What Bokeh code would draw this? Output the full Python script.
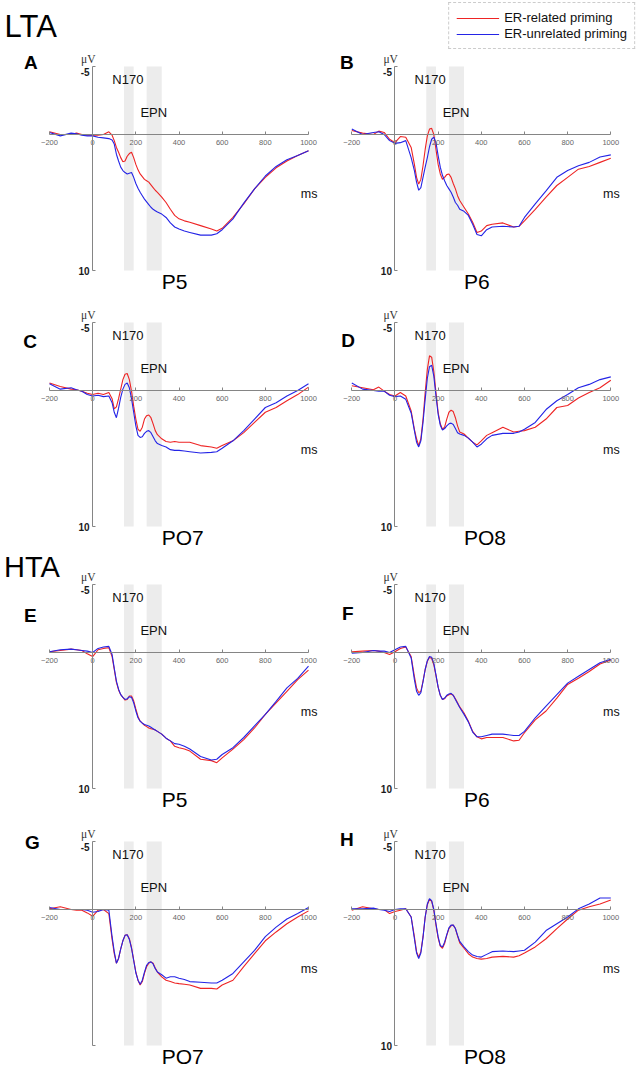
from bokeh.plotting import figure
from bokeh.models import Range1d, LinearAxis, FixedTicker, Legend, LegendItem
from bokeh.layouts import gridplot
from bokeh.core.properties import value
from bokeh.embed import file_html
from bokeh.resources import INLINE

# ---------------- data ----------------
TIME_MS = [-200, -150, -100, -75, -50, -25, 0, 25, 50, 75,
           90, 100, 110, 120, 130, 140, 150, 160, 170, 180, 190, 200, 210, 220, 230, 240, 250, 260, 270, 280, 290, 300,
           320, 340, 360, 380, 400, 425, 450, 500, 550, 575, 600, 650, 700, 750, 800, 850, 900, 950, 1000]

X_TICKS = [-200, 0, 200, 400, 600, 800, 1000]
Y_TICKS = [-5, 10]
Y_TICK_LABELS = ["-5", "10"]
Y_TOP, Y_BOTTOM = -5, 10
X_START, X_END = -200, 1000

BAND_START = [145, 250]
BAND_END = [190, 320]
BAND_NAMES = ["N170", "EPN"]

PANEL_LETTERS = ["A", "B", "C", "D", "E", "F", "G", "H"]
ELECTRODES = ["P5", "P6", "PO7", "PO8", "P5", "P6", "PO7", "PO8"]
GROUPS = ["LTA", "HTA"]
SERIES_NAMES = ["ER-related priming", "ER-unrelated priming"]

A_RED = [-0.2, 0.0, 0.0, -0.1, 0.0, 0.05, 0.05, 0.05, 0.0, -0.2,
         0.05, 0.45, 0.95, 1.3, 1.7, 2.0, 1.95, 1.6, 1.4, 1.3, 1.7, 2.2, 2.6, 2.9, 3.1, 3.3, 3.4, 3.5, 3.7, 3.9, 4.1, 4.25,
         4.6, 5.0, 5.5, 5.95, 6.2, 6.35, 6.45, 6.7, 6.95, 7.1, 6.9, 6.1, 5.1, 4.0, 3.15, 2.45, 1.95, 1.55, 1.2]
A_BLUE = [-0.15, 0.1, -0.1, -0.05, 0.05, 0.1, 0.1, 0.2, 0.25, 0.3,
          0.4, 0.7, 1.45, 1.95, 2.4, 2.65, 2.8, 2.9, 2.85, 2.8, 3.15, 3.6, 3.95, 4.25, 4.5, 4.75, 4.95, 5.15, 5.35, 5.5, 5.6, 5.7,
          5.85, 6.1, 6.5, 6.8, 6.95, 7.1, 7.2, 7.4, 7.4, 7.3, 7.0, 6.2, 5.05, 4.0, 3.05, 2.35, 1.85, 1.55, 1.2]

B_RED = [-0.3, -0.1, 0.0, -0.25, -0.15, 0.35, 0.6, 0.15, 0.2, 0.95,
         2.2, 3.15, 3.65, 3.3, 2.3, 1.1, 0.1, -0.4, -0.45, 0.0, 1.1, 2.2, 2.9, 3.3, 3.15, 2.95, 2.9, 3.15, 3.6, 4.0, 4.5, 4.85,
         5.35, 5.85, 6.45, 7.2, 7.1, 6.7, 6.6, 6.5, 6.8, 6.75, 6.35, 5.5, 4.6, 3.75, 3.15, 2.55, 2.35, 2.05, 1.75]
B_BLUE = [-0.4, 0.0, -0.15, -0.2, 0.0, 0.45, 0.65, 0.6, 0.45, 1.7,
          2.65, 3.5, 4.1, 3.9, 3.15, 2.4, 1.7, 0.9, 0.35, 0.2, 0.6, 1.55, 2.4, 3.0, 3.4, 3.75, 4.0, 4.25, 4.6, 5.0, 5.2, 5.5,
          5.65, 5.95, 6.6, 7.35, 7.45, 7.0, 6.8, 6.75, 6.8, 6.75, 6.1, 5.1, 4.15, 3.15, 2.65, 2.3, 2.05, 1.65, 1.5]

C_RED = [-0.55, -0.3, -0.1, -0.05, 0.05, 0.2, 0.3, 0.2, 0.3, 0.15,
         0.6, 1.35, 1.2, 0.6, -0.1, -0.8, -1.2, -1.25, -0.8, 0.05, 1.15, 2.1, 2.85, 3.0, 2.7, 2.1, 1.85, 1.8, 2.0, 2.45, 2.95, 3.25,
         3.55, 3.75, 3.8, 3.75, 3.8, 3.8, 3.8, 4.05, 4.15, 4.25, 4.05, 3.7, 3.1, 2.35, 1.6, 1.25, 0.75, 0.3, -0.25]
C_BLUE = [-0.5, -0.1, -0.2, -0.05, 0.05, 0.3, 0.4, 0.35, 0.45, 0.4,
          0.9, 1.6, 2.0, 1.3, 0.5, -0.1, -0.45, -0.55, -0.2, 0.6, 1.6, 2.6, 3.3, 3.45, 3.4, 3.15, 3.0, 2.95, 3.1, 3.4, 3.7, 3.9,
          4.05, 4.15, 4.35, 4.4, 4.4, 4.45, 4.5, 4.6, 4.55, 4.5, 4.25, 3.7, 2.95, 2.1, 1.25, 0.9, 0.4, 0.0, -0.5]

D_RED = [-0.35, -0.2, -0.05, -0.25, 0.05, 0.3, 0.4, 0.15, 0.4, 1.5,
         2.85, 3.55, 4.05, 3.55, 2.1, 0.15, -1.55, -2.55, -2.45, -1.4, 0.15, 1.6, 2.45, 2.85, 2.7, 2.1, 1.6, 1.45, 1.55, 2.0, 2.6, 3.05,
         3.2, 3.5, 3.8, 4.0, 3.7, 3.3, 3.1, 2.7, 3.05, 3.0, 2.95, 2.7, 2.1, 1.25, 1.1, 0.55, 0.15, -0.2, -0.75]
D_BLUE = [-0.55, -0.1, 0.0, 0.05, 0.05, 0.35, 0.45, 0.4, 0.65, 1.65,
          2.95, 3.8, 4.15, 3.7, 2.35, 0.65, -0.9, -1.75, -1.85, -1.05, 0.4, 1.75, 2.55, 2.9, 2.8, 2.6, 2.45, 2.4, 2.5, 2.8, 3.1, 3.2,
          3.3, 3.5, 3.8, 4.15, 3.95, 3.55, 3.3, 3.15, 3.15, 3.05, 2.85, 2.35, 1.4, 0.75, 0.3, -0.2, -0.45, -0.8, -1.0]

E_RED = [-0.05, -0.15, -0.25, -0.2, -0.15, 0.1, 0.3, -0.2, -0.3, -0.35,
         0.3, 1.25, 2.2, 2.75, 3.1, 3.3, 3.5, 3.45, 3.2, 3.2, 3.55, 4.15, 4.7, 5.05, 5.2, 5.35, 5.45, 5.55, 5.6, 5.65, 5.7, 5.8,
         6.0, 6.3, 6.5, 6.9, 7.0, 7.1, 7.25, 7.85, 7.95, 8.1, 7.75, 7.1, 6.4, 5.55, 4.55, 3.7, 2.85, 2.0, 1.3]
E_BLUE = [-0.05, -0.2, -0.25, -0.2, -0.15, -0.1, 0.0, -0.3, -0.4, -0.45,
          0.15, 1.15, 2.1, 2.7, 3.1, 3.3, 3.45, 3.4, 3.25, 3.3, 3.7, 4.3, 4.8, 5.05, 5.2, 5.3, 5.35, 5.4, 5.5, 5.6, 5.7, 5.8,
          6.0, 6.3, 6.5, 6.7, 6.75, 6.9, 7.1, 7.65, 7.9, 7.85, 7.5, 7.0, 6.25, 5.4, 4.55, 3.6, 2.6, 1.9, 1.0]

F_RED = [-0.05, -0.1, -0.15, -0.1, 0.0, 0.15, -0.05, -0.3, -0.4, 0.3,
         1.75, 2.6, 2.95, 2.85, 2.1, 1.25, 0.65, 0.35, 0.45, 0.9, 1.7, 2.55, 3.15, 3.45, 3.4, 3.2, 3.1, 3.05, 3.15, 3.4, 3.7, 4.0,
         4.45, 5.05, 5.8, 6.2, 6.35, 6.25, 6.25, 6.25, 6.5, 6.45, 5.9, 4.95, 4.3, 3.35, 2.35, 1.9, 1.4, 0.85, 0.55]
F_BLUE = [0.05, 0.0, -0.15, -0.1, -0.1, 0.0, -0.2, -0.4, -0.45, 0.4,
          2.0, 2.85, 3.15, 2.95, 2.15, 1.25, 0.6, 0.3, 0.35, 0.8, 1.65, 2.55, 3.15, 3.45, 3.35, 3.15, 3.05, 3.0, 3.15, 3.45, 3.75, 4.05,
          4.55, 5.1, 5.85, 6.2, 6.2, 6.1, 6.0, 6.0, 6.1, 6.1, 5.8, 4.8, 3.95, 3.1, 2.25, 1.75, 1.25, 0.75, 0.5]

G_RED = [-0.05, -0.2, 0.0, 0.05, 0.05, 0.25, 0.5, 0.05, 0.0, 0.3,
         2.2, 3.25, 3.95, 3.6, 2.9, 2.3, 1.9, 1.85, 2.15, 2.8, 3.7, 4.6, 5.2, 5.55, 5.3, 4.7, 4.2, 3.95, 3.85, 3.95, 4.3, 4.6,
         4.95, 5.2, 5.3, 5.4, 5.45, 5.5, 5.55, 5.8, 5.8, 5.85, 5.55, 5.2, 4.2, 3.25, 2.3, 1.65, 1.05, 0.55, 0.1]
G_BLUE = [-0.15, 0.0, 0.0, 0.0, 0.0, 0.05, 0.2, 0.15, 0.0, 0.05,
          2.0, 3.1, 3.95, 3.6, 2.9, 2.3, 1.9, 1.85, 2.2, 2.85, 3.75, 4.65, 5.2, 5.5, 5.2, 4.6, 4.1, 3.9, 3.85, 4.0, 4.35, 4.6,
          4.8, 5.05, 4.95, 4.95, 5.05, 5.15, 5.3, 5.35, 5.4, 5.4, 5.2, 4.7, 3.85, 3.0, 2.0, 1.3, 0.7, 0.3, -0.15]

H_RED = [0.05, -0.2, -0.05, 0.0, 0.0, 0.3, 0.15, 0.05, -0.05, 0.55,
         2.0, 3.1, 3.5, 3.1, 2.0, 0.55, -0.35, -0.75, -0.6, 0.05, 1.15, 2.1, 2.7, 2.85, 2.5, 1.9, 1.4, 1.2, 1.15, 1.4, 1.95, 2.45,
         2.85, 3.25, 3.5, 3.6, 3.65, 3.6, 3.5, 3.45, 3.5, 3.4, 3.2, 2.75, 2.15, 1.4, 0.7, 0.05, -0.2, -0.4, -0.7]
H_BLUE = [-0.05, -0.05, -0.1, 0.0, 0.05, 0.15, 0.0, -0.05, -0.05, 0.55,
          2.15, 3.2, 3.6, 3.2, 2.05, 0.55, -0.4, -0.8, -0.65, 0.0, 1.05, 2.0, 2.65, 2.75, 2.4, 1.85, 1.35, 1.15, 1.15, 1.4, 1.9, 2.35,
          2.75, 3.1, 3.35, 3.45, 3.5, 3.3, 3.1, 3.05, 3.1, 3.05, 3.0, 2.4, 1.55, 1.05, 0.55, -0.05, -0.4, -0.85, -0.85]

RED_SERIES = [A_RED, B_RED, C_RED, D_RED, E_RED, F_RED, G_RED, H_RED]
BLUE_SERIES = [A_BLUE, B_BLUE, C_BLUE, D_BLUE, E_BLUE, F_BLUE, G_BLUE, H_BLUE]

# ---------------- layout & style ----------------
FONT = "Liberation Sans"
SERIF = "Liberation Serif"
RED = "#ee2424"
BLUE = "#2424e6"
BAND_COLOR = "#ececec"
AXIS_COLOR = "#858585"

PX_PER_MS = 259.0 / 1200.0
PX_PER_UV = 13.6
COL_W = [318, 319]
COL_X0 = [49.0, 33.3]           # figure px where x = -200 sits
ROW_H = [298, 251, 269, 250]
ROW_TOP = [66, 24, 35, 23]      # figure px where y = -5 sits

# per-panel letter placement (left x in ms, vertical centre in uV)
LETTER_POS = [(-318, -5.33), (-255, -5.26), (-322, -3.6), (-249, -3.68),
              (-318, -2.72), (-245, -2.87), (-313, -4.96), (-255, -5.15)]


def txt(p, x, y, s, size, align="left", font=FONT, style="normal", color="#111111"):
    p.text(x=x if isinstance(x, list) else [x], y=y if isinstance(y, list) else [y],
           text=s if isinstance(s, list) else [s], text_font=value(font), text_font_size=size,
           text_font_style=style, text_align=align, text_baseline="middle",
           text_color=color)


def make_panel(i):
    r, c = divmod(i, 2)
    w, h = COL_W[c], ROW_H[r]
    xs = X_START - COL_X0[c] / PX_PER_MS
    xe = xs + w / PX_PER_MS
    yt = Y_TOP - ROW_TOP[r] / PX_PER_UV
    yb = yt + h / PX_PER_UV
    p = figure(width=w, height=h, x_range=Range1d(xs, xe), y_range=Range1d(yb, yt),
               x_axis_type=None, y_axis_type=None, output_backend="svg",
               toolbar_location=None, min_border=0, outline_line_color=None,
               background_fill_color="white", border_fill_color="white")

    p.quad(left=BAND_START, right=BAND_END, top=Y_TOP, bottom=Y_BOTTOM,
           fill_color=BAND_COLOR, line_color=None)

    xa = LinearAxis(fixed_location=0, bounds=(X_START, X_END),
                    ticker=FixedTicker(ticks=X_TICKS),
                    axis_line_color=AXIS_COLOR, major_tick_line_color=AXIS_COLOR,
                    major_tick_in=3, major_tick_out=0, minor_tick_line_color=None,
                    major_label_text_font=FONT, major_label_text_font_size="7.5px",
                    major_label_text_color="#666666", major_label_standoff=5)
    p.add_layout(xa, "below")
    ya = LinearAxis(fixed_location=0, bounds=(Y_TOP, Y_BOTTOM),
                    ticker=FixedTicker(ticks=Y_TICKS),
                    axis_line_color=AXIS_COLOR, major_tick_line_color=AXIS_COLOR,
                    major_tick_in=3, major_tick_out=0, minor_tick_line_color=None,
                    major_label_text_color=None)
    p.add_layout(ya, "left")

    rr = p.line(TIME_MS, RED_SERIES[i], line_color=RED, line_width=1.1)
    bb = p.line(TIME_MS, BLUE_SERIES[i], line_color=BLUE, line_width=1.1)

    # y tick labels (G shows no "10")
    labels = Y_TICK_LABELS if PANEL_LETTERS[i] != "G" else [Y_TICK_LABELS[0], ""]
    txt(p, [-14, -14], [Y_TICKS[0] + 0.37, Y_TICKS[1]], labels, "10px", align="right",
        style="bold", color="#1a1a1a")

    txt(p, 163, -4.04, BAND_NAMES[0], "13px", align="center")
    txt(p, 283, -1.62, BAND_NAMES[1], "13px", align="center")
    txt(p, 1003, 4.41, "ms", "12.5px", align="center")
    txt(p, -20, -5.55, "μV", "11.5px", align="center", font=SERIF, color="#333333")
    lx, ly = LETTER_POS[i]
    txt(p, lx, ly, PANEL_LETTERS[i], "19px", style="bold", color="#000000")
    txt(p, 320, 10.78, ELECTRODES[i], "21px", color="#000000")
    return p, rr, bb


panels = []
for i in range(8):
    p, rr, bb = make_panel(i)
    panels.append(p)
    if i == 0:
        txt(p, -408, -7.94, GROUPS[0], "31px", color="#000000")
    if i == 4:
        txt(p, -411, -6.3, GROUPS[1], "29px", color="#000000")
    if i == 1:
        leg = Legend(items=[LegendItem(label=SERIES_NAMES[0], renderers=[rr]),
                            LegendItem(label=SERIES_NAMES[1], renderers=[bb])],
                     location="top_right", margin=2, padding=7, spacing=1,
                     glyph_width=43, glyph_height=14, label_height=14, label_standoff=5,
                     label_text_font=FONT, label_text_font_size="13px",
                     label_text_color="#111111",
                     border_line_color="#9a9a9a", border_line_dash="3 2", border_line_width=1,
                     background_fill_color="white", background_fill_alpha=1.0)
        p.add_layout(leg)

grid = gridplot([[panels[0], panels[1]], [panels[2], panels[3]],
                 [panels[4], panels[5]], [panels[6], panels[7]]],
                toolbar_location=None)

open("out.html", "w").write(file_html(grid, INLINE))
